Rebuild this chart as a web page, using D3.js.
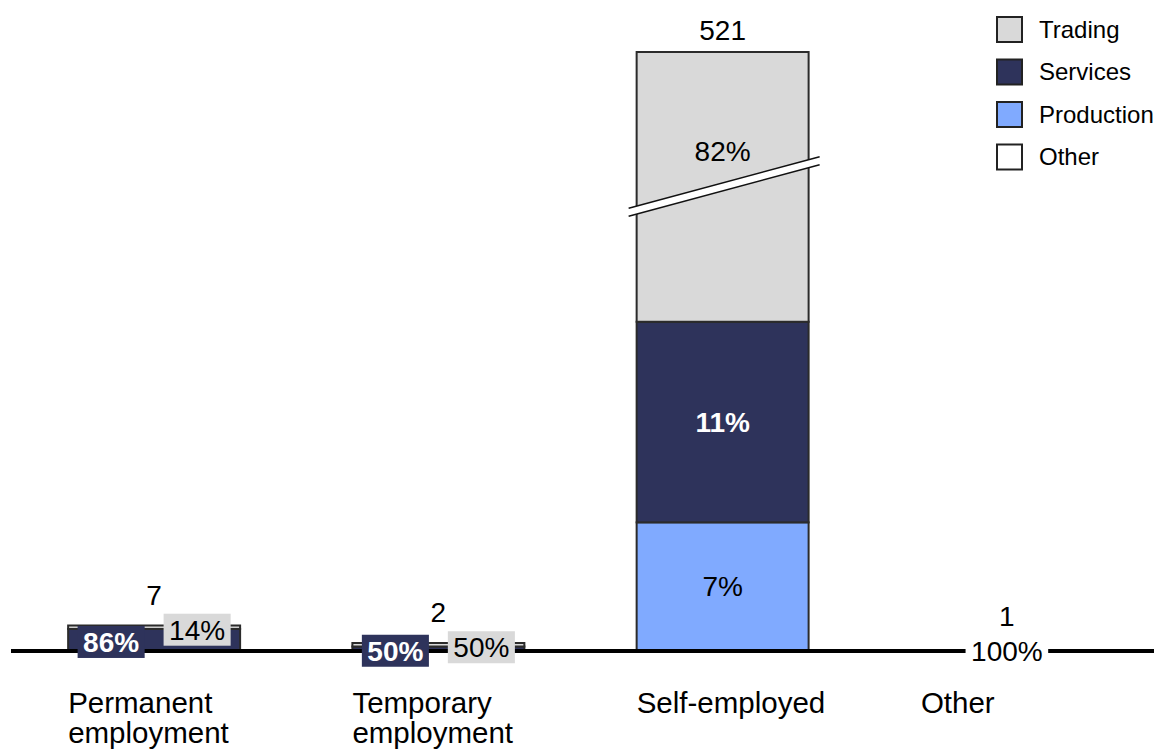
<!DOCTYPE html>
<html>
<head>
<meta charset="utf-8">
<script src="https://cdn.jsdelivr.net/npm/d3@7"></script>
<style>
	body { margin: 0; background: #fff; }
	svg { display: block; font-family: "Liberation Sans", Arial, sans-serif; }
</style>
</head>
<body>
<div id="chart-area"></div>
<script>
// categories (tick labels, split per line)
var categories = ["Permanent employment", "Temporary employment", "Self-employed", "Other"];
var categoryLines = [["Permanent", "employment"], ["Temporary", "employment"], ["Self-employed"], ["Other"]];

// number of people per category
var totals = [7, 2, 521, 1];

// share of each sector, in percent
var sectors = ["Trading", "Services", "Production", "Other"];
var tradingPct = [14, 50, 82, 0];
var servicesPct = [86, 50, 11, 0];
var productionPct = [0, 0, 7, 0];
var otherPct = [0, 0, 0, 100];

// stacking order, bottom to top
var stackOrder = ["Production", "Services", "Trading", "Other"];

// axis break (values hidden between these two)
var breakLow = 131;
var breakHigh = 242;

var width = 1154;
var height = 754;
var baseY = 650;

var svg = d3.select("#chart-area")
	.append("svg")
		.attr("width", width)
		.attr("height", height);

var pctBySector = {Trading: tradingPct, Services: servicesPct, Production: productionPct, Other: otherPct};

var rows = categories.map(function(c, i){
	var row = {category: c, total: totals[i]};
	sectors.forEach(function(s){
		row[s] = totals[i] * pctBySector[s][i] / 100;
		row[s + "Pct"] = pctBySector[s][i];
	});
	return row;
});

var color = d3.scaleOrdinal()
	.domain(sectors)
	.range(["#d9d9d9", "#2e335b", "#80aaff", "#ffffff"]);

var textColor = d3.scaleOrdinal()
	.domain(sectors)
	.range(["#000", "#fff", "#000", "#000"]);

	// X scale
var x = d3.scaleBand()
	.domain(categories)
	.range([12, 1149])
	.paddingInner(0.395)
	.paddingOuter(0.1975);

	// Y scale, broken between breakLow and breakHigh
var y = d3.scaleLinear()
	.domain([0, breakLow, breakHigh, 521])
	.range([baseY, baseY - breakLow * 3.5, baseY - breakLow * 3.5 - 10, 52]);

var series = d3.stack().keys(stackOrder)(rows);

var segments = [];
series.forEach(function(s){
	s.forEach(function(d){
		if (d[1] - d[0] > 0) {
			segments.push({key: s.key, d0: d[0], d1: d[1], row: d.data});
		}
	});
});

	// bars
svg.append("g")
	.selectAll("rect")
	.data(segments)
	.enter()
	.append("rect")
		.attr("x", function(d){ return x(d.row.category); })
		.attr("y", function(d){ return y(d.d1); })
		.attr("width", x.bandwidth())
		.attr("height", function(d){ return y(d.d0) - y(d.d1); })
		.attr("fill", function(d){ return color(d.key); })
		.attr("stroke", function(d){ return d.key === "Other" ? "none" : "#2b2b2b"; })
		.attr("stroke-width", 2);

	// baseline
svg.append("line")
	.attr("x1", 11)
	.attr("x2", width)
	.attr("y1", y(0) + 1)
	.attr("y2", y(0) + 1)
	.attr("stroke", "#000")
	.attr("stroke-width", 4);

	// break marks on bars that pass the break
var brokenRows = rows.filter(function(r){ return r.total > breakHigh; });
var breakY = (y(breakLow) + y(breakHigh)) / 2;
brokenRows.forEach(function(r){
	var x0 = x(r.category) - 8;
	var x1 = x(r.category) + x.bandwidth() + 11;
	var xm = (x0 + x1) / 2;
	var slope = -0.27;
	var gap = 4;
	function py(xx, off){ return breakY + (xx - xm) * slope + off; }
	svg.append("path")
		.attr("d", "M" + x0 + "," + py(x0, -gap) + "L" + x1 + "," + py(x1, -gap) +
			"L" + x1 + "," + py(x1, gap) + "L" + x0 + "," + py(x0, gap) + "Z")
		.attr("fill", "#fff");
	[-gap, gap].forEach(function(off){
		svg.append("line")
			.attr("x1", x0).attr("y1", py(x0, off))
			.attr("x2", x1).attr("y2", py(x1, off))
			.attr("stroke", "#111")
			.attr("stroke-width", 1.5);
	});
});

	// segment labels
var labels = svg.append("g")
	.attr("font-size", "28px");

var boxTops = {};
rows.forEach(function(r){
	var segs = segments.filter(function(s){ return s.row === r; });
	var small = segs.filter(function(s){ return y(s.d0) - y(s.d1) < 30; });
	segs.forEach(function(s){
		var label = s.row[s.key + "Pct"] + "%";
		var mid = y((s.d0 + s.d1) / 2);
		var cx = x(r.category) + x.bandwidth() / 2;
		var isSmall = small.indexOf(s) >= 0;
		if (isSmall && small.length > 1) {
			cx = x(r.category) + x.bandwidth() * (small.indexOf(s) === 0 ? 0.25 : 0.75);
		}
		var cy = isSmall ? mid + 2.5 : mid;
		var g = labels.append("g");
		var t = g.append("text")
			.attr("x", cx)
			.attr("y", cy)
			.attr("dy", "0.35em")
			.attr("text-anchor", "middle")
			.attr("fill", textColor(s.key))
			.attr("font-weight", textColor(s.key) === "#fff" ? "bold" : "normal")
			.text(label);
		if (isSmall) {
			var w = t.node().getComputedTextLength() + 11;
			g.insert("rect", "text")
				.attr("x", cx - w / 2)
				.attr("y", cy - 16)
				.attr("width", w)
				.attr("height", 32)
				.attr("fill", color(s.key));
			var top = cy - 16;
			boxTops[r.category] = Math.min(boxTops[r.category] || 9999, top);
		}
	});
});

	// totals above the bars
svg.append("g")
	.selectAll("text")
	.data(rows)
	.enter()
	.append("text")
		.attr("x", function(d){ return x(d.category) + x.bandwidth() / 2; })
		.attr("y", function(d){ return Math.min(y(d.total) - 12, (boxTops[d.category] || 9999) - 9); })
		.attr("text-anchor", "middle")
		.attr("font-size", "28px")
		.text(function(d){ return d.total; });

	// category labels
var catText = svg.append("g")
	.selectAll("text")
	.data(categories)
	.enter()
	.append("text")
		.attr("x", function(d){ return x(d); })
		.attr("y", 713)
		.attr("font-size", "29.5px");

catText.selectAll("tspan")
	.data(function(d, i){ return categoryLines[i]; })
	.enter()
	.append("tspan")
		.attr("x", function(){ return x(d3.select(this.parentNode).datum()); })
		.attr("dy", function(d, i){ return i === 0 ? 0 : 30; })
		.text(function(d){ return d; });

	// legend
var legend = svg.append("g")
	.attr("transform", "translate(997, 17)");

var legendRows = legend.selectAll("g")
	.data(sectors)
	.enter()
	.append("g")
		.attr("transform", function(d, i){ return "translate(0, " + (i * 42.5) + ")"; });

legendRows.append("rect")
	.attr("width", 25)
	.attr("height", 25)
	.attr("fill", function(d){ return color(d); })
	.attr("stroke", "#222")
	.attr("stroke-width", 2);

legendRows.append("text")
	.attr("x", 42)
	.attr("y", 12.5)
	.attr("dy", "0.35em")
	.attr("font-size", "24px")
	.text(function(d){ return d; });
</script>
</body>
</html>
